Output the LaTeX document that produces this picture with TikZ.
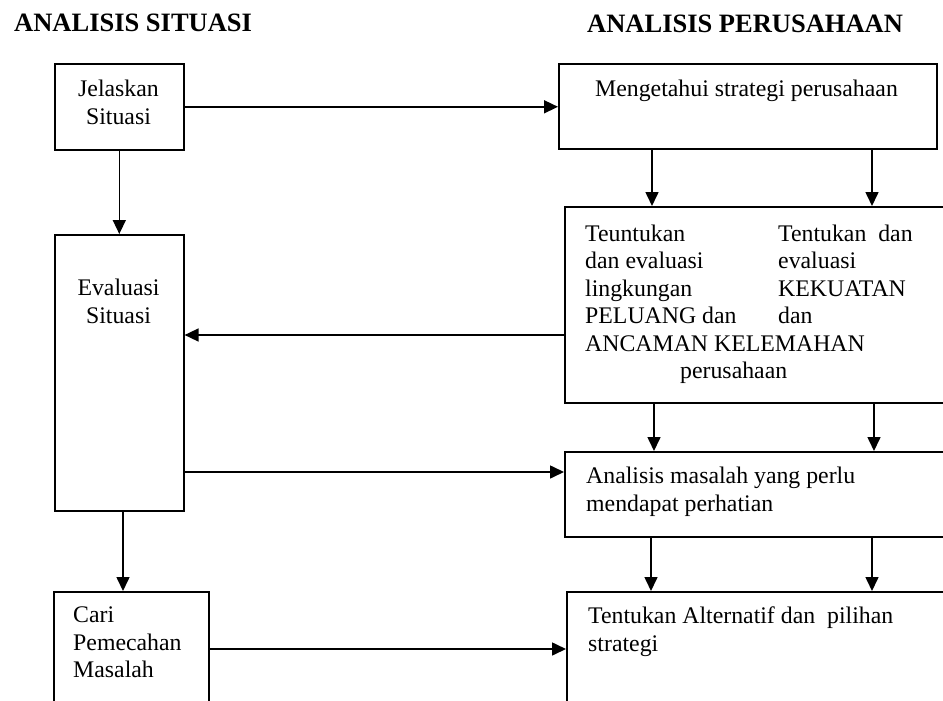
\documentclass[tikz,border=0pt]{standalone}
\usepackage{fontspec}
\setmainfont{Liberation Serif}
\usetikzlibrary{arrows.meta}

\begin{document}
\begin{tikzpicture}[
x=1pt,y=-1pt,
box/.style={
	draw=black,line width=1.6pt,inner sep=0pt,anchor=north west},
txt/.style={
	inner sep=0pt,align=left,
	font=\fontsize{23.8}{27.5}\selectfont},
head/.style={
	inner sep=0pt,anchor=base west,
	font=\fontsize{26.5}{30}\selectfont\bfseries},
arr/.style={
	line width=1.6pt,-{Triangle[length=14pt,width=13pt]}}
]
\useasboundingbox (0,0) rectangle (943,701);
\clip (0,0) rectangle (943,701);

% titles
\node[head] (situasi) at (14,32) {ANALISIS SITUASI};
\node[head] (perusahaan) at (587,33) {ANALISIS PERUSAHAAN};

% left column
\node[box,minimum width=129pt,minimum height=86pt] (jelaskan) at (54,63) {};
\node[txt,align=center,anchor=north] (tjelaskan) at (118.5,80) {Jelaskan\\Situasi};
\node[box,minimum width=129pt,minimum height=276pt] (evaluasi) at (54,234) {};
\node[txt,align=center,anchor=north] (tevaluasi) at (118.5,279) {Evaluasi\\Situasi};
\node[box,minimum width=155pt,minimum height=140pt] (cari) at (53,591) {};
\node[txt,anchor=north west] (tcari) at (73,607) {Cari\\Pemecahan\\Masalah};

% right column
\node[box,minimum width=378pt,minimum height=85pt] (mengetahui) at (558,63) {};
\node[txt,anchor=north west] (tmengetahui) at (595,80) {Mengetahui strategi perusahaan};
\node[box,minimum width=400pt,minimum height=196pt] (lingkungan) at (564,206) {};
\node[txt,anchor=north west] (tlingkungan) at (585,221.75) {%
	\begin{tabular}{@{}p{193pt}@{}l@{}}
	Teuntukan & Tentukan\ \ dan\\
	dan evaluasi & evaluasi\\
	lingkungan & KEKUATAN\\
	PELUANG dan & dan\\
	\multicolumn{2}{@{}l@{}}{ANCAMAN KELEMAHAN}\\
	\multicolumn{2}{@{}l@{}}{\hspace*{95pt}perusahaan}
	\end{tabular}};
\node[box,minimum width=400pt,minimum height=85pt] (masalah) at (564,451) {};
\node[txt,anchor=north west] (tmasalah) at (586,467) {Analisis masalah yang perlu\\mendapat perhatian};
\node[box,minimum width=400pt,minimum height=140pt] (alternatif) at (566,591) {};
\node[txt,anchor=north west] (talternatif) at (588,607) {Tentukan Alternatif dan\ \ pilihan\\strategi};

% connectors
\draw[arr] (jelaskan.east) -- (jelaskan.east -| mengetahui.west);
\draw[arr] (jelaskan) -- (evaluasi);
\foreach \xa in {652,872}
	\draw[arr] (\xa,0 |- mengetahui.south) -- (\xa,0 |- lingkungan.north);
\draw[arr] (lingkungan.west |- 0,335) -- (evaluasi.east |- 0,335);
\foreach \xa in {654,874}
	\draw[arr] (\xa,0 |- lingkungan.south) -- (\xa,0 |- masalah.north);
\draw[arr] (evaluasi.east |- 0,472) -- (masalah.west |- 0,472);
\draw[arr] (123,0 |- evaluasi.south) -- (123,0 |- cari.north);
\foreach \xa in {651,872}
	\draw[arr] (\xa,0 |- masalah.south) -- (\xa,0 |- alternatif.north);
\draw[arr] (cari.east |- 0,649) -- (alternatif.west |- 0,649);

\end{tikzpicture}
\end{document}
